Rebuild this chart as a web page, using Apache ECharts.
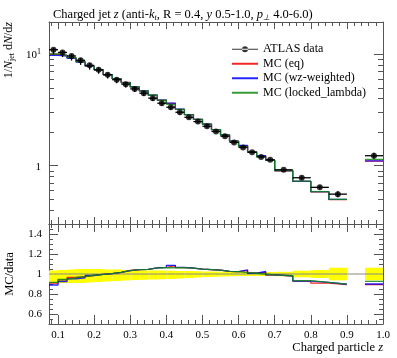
<!DOCTYPE html>
<html><head><meta charset="utf-8">
<script src="https://cdn.jsdelivr.net/npm/echarts@6/dist/echarts.min.js"></script>
<style>html,body{margin:0;padding:0;background:#fff}#c{width:397px;height:358px}</style>
</head><body><div id="c"></div>
<script>
// ---- data ----
const binEdges = [0.075,0.1,0.125,0.15,0.175,0.2,0.225,0.25,0.275,0.3,0.325,0.35,0.375,0.4,0.425,0.45,0.475,0.5,0.525,0.55,0.575,0.6,0.625,0.65,0.675,0.7,0.75,0.8,0.85,0.9,0.95,1.0];
const dataVals = [11.0,10.4,9.66,8.83,7.96,7.28,6.56,5.92,5.40,4.89,4.48,4.04,3.64,3.35,3.02,2.72,2.49,2.26,2.03,1.84,1.62,1.46,1.32,1.20,1.13,0.92,0.78,0.64,0.556,null,1.23];
const dataRelErrUp = [0.035,0.04,0.045,0.05,0.05,0.05,0.045,0.045,0.04,0.04,0.035,0.035,0.035,0.033,0.03,0.03,0.028,0.025,0.025,0.022,0.02,0.02,0.02,0.02,0.02,0.022,0.033,0.04,0.063,null,0.063];
const dataRelErrDn = [0.09,0.09,0.09,0.09,0.085,0.08,0.075,0.07,0.065,0.06,0.058,0.055,0.053,0.05,0.045,0.04,0.035,0.03,0.028,0.025,0.022,0.02,0.02,0.02,0.02,0.022,0.033,0.04,0.063,null,0.063];
const mcEq = [10.01,9.78,9.32,8.59,7.86,7.26,6.58,6.02,5.59,5.10,4.69,4.29,3.88,3.63,3.21,2.88,2.61,2.36,2.11,1.89,1.66,1.51,1.33,1.22,1.12,0.90,0.725,0.582,0.497,null,1.10];
const mcWz = [9.79,9.62,9.18,8.50,7.84,7.26,6.58,6.02,5.58,5.10,4.69,4.29,3.88,3.64,3.22,2.88,2.61,2.36,2.11,1.89,1.66,1.52,1.33,1.23,1.12,0.904,0.725,0.586,0.499,null,1.107];
const mcLocked = [10.07,9.83,9.32,8.59,7.86,7.26,6.58,6.02,5.58,5.10,4.69,4.29,3.87,3.56,3.21,2.88,2.61,2.36,2.11,1.89,1.66,1.48,1.33,1.20,1.12,0.904,0.729,0.586,0.500,null,1.14];
const seriesNames = ['ATLAS data','MC (eq)','MC (wz-weighted)','MC (locked_lambda)'];
const xMajorTicks = [0.1,0.2,0.3,0.4,0.5,0.6,0.7,0.8,0.9,1.0];
const yMainMajorTicks = [1,10];
const yMainMinorTicks = [0.3,0.4,0.5,0.6,0.7,0.8,0.9,2,3,4,5,6,7,8,9];
const yRatioMajorTicks = [0.6,0.8,1,1.2,1.4];
const yRatioMinorTicks = [0.5,0.55,0.65,0.7,0.75,0.85,0.9,0.95,1.05,1.1,1.15,1.25,1.3,1.35,1.45,1.5];
const xMinorTicks = [];
for (let k = 4; k <= 50; k++) { const v = +(k*0.02).toFixed(2); if (Math.abs(v*10 - Math.round(v*10)) > 1e-6) xMinorTicks.push(v); }

// ---- build ----
const FONT = 'Liberation Serif';
const AX = '#555';
const COLORS = {eq:'#ee0000', wz:'#0000ff', locked:'#128a12'};
const X0 = binEdges[0], X1 = binEdges[binEdges.length-1];

function stepData(vals) {
  const out = [];
  for (let i = 0; i < vals.length; i++) {
    if (vals[i] == null) { out.push(['-','-']); continue; }
    out.push([binEdges[i], vals[i]], [binEdges[i+1], vals[i]]);
  }
  return out;
}
function ratio(vals) { return vals.map((v,i)=> (v==null||dataVals[i]==null)?null:v/dataVals[i]); }

const errData = [], pointData = [], bandData = [];
dataVals.forEach((v,i)=>{
  if (v == null) return;
  errData.push([binEdges[i], binEdges[i+1], v, v*(1-dataRelErrDn[i]), v*(1+dataRelErrUp[i])]);
  pointData.push([(binEdges[i]+binEdges[i+1])/2, v]);
  bandData.push([binEdges[i], binEdges[i+1], 1-dataRelErrDn[i], 1+dataRelErrUp[i]]);
});

function xAx(grid, pos, ticks, len, line, labels) {
  return {type:'value', gridIndex:grid, position:pos, min:X0, max:X1,
    axisLine:{show:line, onZero:false, lineStyle:{color:AX, width:1}},
    axisTick:{show:true, inside:true, length:len, customValues:ticks, lineStyle:{color:AX, width:1}},
    axisLabel:labels ? {show:true, customValues:xMajorTicks, margin:6, color:'#000', fontFamily:FONT, fontSize:11,
      formatter:v=>v.toFixed(1)} : {show:false},
    splitLine:{show:false}};
}
function yLog(pos, ticks, len, line, labels) {
  return {type:'log', logBase:10, gridIndex:0, position:pos, min:0.3, max:19.5,
    axisLine:{show:line, onZero:false, lineStyle:{color:AX, width:1}},
    axisTick:{show:true, inside:true, length:len, customValues:ticks, lineStyle:{color:AX, width:1}},
    axisLabel:labels ? {show:true, customValues:yMainMajorTicks, margin:8, color:'#000', fontFamily:FONT, fontSize:11,
      formatter:v=> v>=10 ? '{b|10}{sup|1}' : '{b|1}',
      rich:{b:{fontSize:11, fontFamily:FONT, lineHeight:13, verticalAlign:'bottom', color:'#000'},
            sup:{fontSize:8, fontFamily:FONT, verticalAlign:'top', lineHeight:8, color:'#000'}}} : {show:false},
    splitLine:{show:false}};
}
function yRat(pos, ticks, len, line, labels) {
  return {type:'value', gridIndex:1, position:pos, min:0.5, max:1.5,
    axisLine:{show:line, onZero:false, lineStyle:{color:AX, width:1}},
    axisTick:{show:true, inside:true, length:len, customValues:ticks, lineStyle:{color:AX, width:1}},
    axisLabel:labels ? {show:true, customValues:yRatioMajorTicks, margin:7, color:'#000', fontFamily:FONT, fontSize:11,
      formatter:v=>String(+v.toFixed(1))} : {show:false},
    splitLine:{show:false}};
}

const lineOpts = (name, color, vals, xi, yi) => ({
  type:'line', name, xAxisIndex:xi, yAxisIndex:yi, data:vals, symbol:'none', connectNulls:false,
  lineStyle:{color, width:1.3, opacity:0.85}, itemStyle:{color}, z:3, animation:false, silent:true});

const option = {
  animation:false,
  backgroundColor:'#fff',
  title:{text:'Charged jet {i|z} (anti-{i|k}{s|t}, R = 0.4, {i|y} 0.5-1.0, {i|p}{s|⊥} 4.0-6.0)',
    left:48, top:3,
    textStyle:{fontFamily:FONT, fontSize:12.5, fontWeight:'normal', color:'#000', lineHeight:14,
      rich:{i:{fontFamily:FONT, fontSize:12.5, fontStyle:'italic', color:'#000', lineHeight:14},
            s:{fontFamily:FONT, fontSize:8, fontStyle:'italic', color:'#000', lineHeight:8, verticalAlign:'bottom'}}}},
  legend:{orient:'vertical', left:226, top:37, itemWidth:26, itemHeight:6, itemGap:0, itemTextGap:7, selectedMode:false,
    textStyle:{fontFamily:FONT, fontSize:12, color:'#000', lineHeight:14.5},
    data:[{name:seriesNames[0], icon:'path://M0,2.4H26V3.6H0Z M10,3A3,3,0,1,0,16,3A3,3,0,1,0,10,3Z', itemStyle:{color:'#000'}},
          {name:seriesNames[1], itemStyle:{opacity:0}},
          {name:seriesNames[2], itemStyle:{opacity:0}},
          {name:seriesNames[3], itemStyle:{opacity:0}}]},
  grid:[{left:49, top:22, width:334, height:202},{left:49, top:224, width:334, height:100}],
  xAxis:[
    xAx(0,'bottom',xMajorTicks,7,true,false), xAx(0,'bottom',xMinorTicks,4,false,false),
    xAx(0,'top',xMajorTicks,7,true,false), xAx(0,'top',xMinorTicks,4,false,false),
    xAx(1,'bottom',xMajorTicks,9,true,true), xAx(1,'bottom',xMinorTicks,4,false,false),
    xAx(1,'top',xMajorTicks,8,true,false), xAx(1,'top',xMinorTicks,4,false,false)],
  yAxis:[
    yLog('left',yMainMajorTicks,9,true,true), yLog('left',yMainMinorTicks,5,false,false),
    yLog('right',yMainMajorTicks,9,true,false), yLog('right',yMainMinorTicks,5,false,false),
    yRat('left',yRatioMajorTicks,9,true,true), yRat('left',yRatioMinorTicks,4,false,false),
    yRat('right',yRatioMajorTicks,9,true,false), yRat('right',yRatioMinorTicks,4,false,false)],
  series:[
    lineOpts(seriesNames[1], COLORS.eq, stepData(mcEq), 0, 0),
    lineOpts(seriesNames[2], COLORS.wz, stepData(mcWz), 0, 0),
    lineOpts(seriesNames[3], COLORS.locked, stepData(mcLocked), 0, 0),
    {type:'custom', name:'errbars', xAxisIndex:0, yAxisIndex:0, data:errData, z:5, silent:true, clip:true,
      encode:{x:[0,1], y:[2,3,4]},
      renderItem:(params, api)=>{
        const lo=api.value(0), hi=api.value(1), v=api.value(2), dn=api.value(3), up=api.value(4);
        const a=api.coord([lo,v]), b=api.coord([hi,v]);
        const c=api.coord([(lo+hi)/2,dn]), d=api.coord([(lo+hi)/2,up]);
        return {type:'group', children:[
          {type:'line', shape:{x1:a[0],y1:a[1],x2:b[0],y2:b[1]}, style:{stroke:'#000', lineWidth:1.3}},
          {type:'line', shape:{x1:c[0],y1:c[1],x2:d[0],y2:d[1]}, style:{stroke:'#000', lineWidth:1.3}}]};
      }},
    {type:'scatter', name:seriesNames[0], xAxisIndex:0, yAxisIndex:0, data:pointData, symbol:'circle', symbolSize:6,
      itemStyle:{color:'#000'}, z:6, silent:true},
    {type:'custom', name:'band', xAxisIndex:4, yAxisIndex:4, data:bandData, z:1, silent:true, clip:true,
      encode:{x:[0,1], y:[2,3]},
      renderItem:(params, api)=>{
        const a=api.coord([api.value(0), api.value(3)]), b=api.coord([api.value(1), api.value(2)]);
        return {type:'rect', shape:{x:a[0], y:a[1], width:b[0]-a[0], height:b[1]-a[1]}, style:{fill:'#ffff00'}};
      }},
    {type:'line', name:'ref', xAxisIndex:4, yAxisIndex:4, data:[[X0,1],[X1,1]], symbol:'none',
      lineStyle:{color:'#888', width:1}, z:2, silent:true},
    lineOpts(seriesNames[1], COLORS.eq, stepData(ratio(mcEq)), 4, 4),
    lineOpts(seriesNames[2], COLORS.wz, stepData(ratio(mcWz)), 4, 4),
    lineOpts(seriesNames[3], COLORS.locked, stepData(ratio(mcLocked)), 4, 4)
  ],
  graphic:[
    {type:'text', x:9, y:22, rotation:Math.PI/2, silent:true,
      style:{text:'1/{i|N}{s|jet} d{i|N}/d{i|z}', align:'right', verticalAlign:'middle', fill:'#000',
        fontFamily:FONT, fontSize:12, lineHeight:14,
        rich:{i:{fontFamily:FONT, fontSize:12, fontStyle:'italic', fill:'#000', lineHeight:14},
              s:{fontFamily:FONT, fontSize:8, fill:'#000', lineHeight:8, verticalAlign:'bottom'}}}},
    {type:'text', x:10, y:274, rotation:Math.PI/2, silent:true,
      style:{text:'MC/data', align:'center', verticalAlign:'middle', fill:'#000', fontFamily:FONT, fontSize:12.5}},
    {type:'text', x:383, y:348, silent:true,
      style:{text:'Charged particle {i|z}', align:'right', verticalAlign:'middle', fill:'#000', fontFamily:FONT, fontSize:12.5,
        rich:{i:{fontFamily:FONT, fontSize:12.5, fontStyle:'italic', fill:'#000'}}}}
  ]
};
const chart = echarts.init(document.getElementById('c'));
chart.setOption(option);
</script></body></html>
